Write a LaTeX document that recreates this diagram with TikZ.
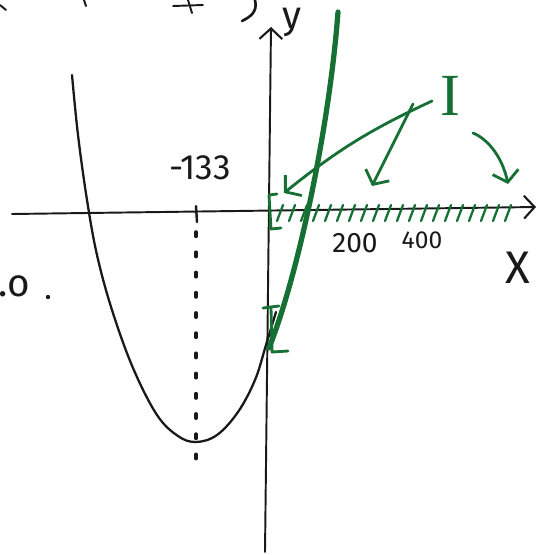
\documentclass[tikz,border=0pt]{standalone}
\usepackage{fontspec}
\setmainfont{Fira Sans}
\newfontfamily\romanI{Liberation Serif}
\usetikzlibrary{arrows.meta}
\definecolor{penG}{RGB}{22,112,52}
\definecolor{penK}{RGB}{25,25,25}

\begin{document}
\begin{tikzpicture}[
  x=0.02cm, y=-0.02cm,
  ink/.style={penK, line width=1.1pt, line cap=round},
  axis/.style={ink, -{Straight Barb[length=6pt,width=13pt,line width=1.2pt]}},
  grn/.style={penG, line width=1.6pt, line cap=round, line join=round},
  gline/.style={grn, line width=3pt},
  hatch/.style={grn, line width=1.3pt},
  garr/.style={grn, -{Straight Barb[length=6pt,width=15pt,line width=1.6pt]}},
  lbl/.style={inner sep=0pt, penK},
  glbl/.style={inner sep=0pt, penG},
]
\useasboundingbox (0,0) rectangle (540,555);
% Axes
\coordinate (xl) at (12,214);
\coordinate (xr) at (536,207);
\coordinate (yb) at (265,552);
\coordinate (yt) at (271,27);
\draw[axis] (xl) -- (xr);
\draw[axis] (yb) -- (yt);
\node[lbl, font=\fontsize{22}{22}\selectfont] (ylab) at (292,22) {y};
\node[lbl, font=\fontsize{26}{26}\selectfont] (xlab) at (518,268) {X};
% Parabola
\draw[ink, line width=1.3pt] plot[smooth, tension=0.6] coordinates
  {(72,75) (78,135) (87,200) (97,255) (112,310) (133,368) (157,415)
   (178,436) (196,442) (217,435) (238,412) (255,380) (266,345) (276,312)};
% Vertex
\draw[ink, line width=1.4pt] (196,206) -- (197,222);
\draw[ink, line width=2pt, dash pattern=on 2.5pt off 9pt] (196,232) -- (196,462);
\node[lbl, font=\fontsize{20}{20}\selectfont] (vx) at (200,168) {-133};
\node[lbl, font=\fontsize{16}{16}\selectfont] (t200) at (355,243) {200};
\node[lbl, font=\fontsize{14}{14}\selectfont] (t400) at (422,240) {400};
% Stray marks
\node[lbl, font=\fontsize{22}{22}\selectfont] (lft) at (14,286) {.o};
\fill[penK] (48,297) circle (2.2);
\draw[ink] (0,5) -- (6,10);
\draw[ink] (84,0) -- (86,6);
\draw[ink] (173,6) -- (203,5);
\draw[ink] (188,0) -- (192,13);
\draw[ink, line width=1.5pt] (255,0) .. controls (258,12) and (250,17) .. (242,21);
% Green line
\draw[gline] (269,348) .. controls (300,270) and (330,120) .. (338,12);
% Brackets
\draw[grn] (277,194) -- (269,195) -- (271,229) -- (281,228);
\draw[grn] (263,308) -- (279,306);
\draw[grn] (271,307) -- (272,352) -- (288,351);
% Hatching
\foreach \hx in {280,292,...,512}
  \draw[hatch] (\hx-3,221) -- (\hx+3,205);
% Label I and arrows
\node[glbl, font=\romanI\fontsize{34}{34}\selectfont] (one) at (450,96) {I};
\coordinate (s1) at (432,101);
\coordinate (e1) at (284,193);
\coordinate (s2) at (413,104);
\coordinate (e2) at (372,186);
\coordinate (s3) at (473,133);
\coordinate (e3) at (508,184);
\draw[garr] (s1) to[bend right=7] (e1);
\draw[garr] (s2) -- (e2);
\draw[garr] (s3) .. controls (490,140) and (503,160) .. (e3);
\end{tikzpicture}
\end{document}
